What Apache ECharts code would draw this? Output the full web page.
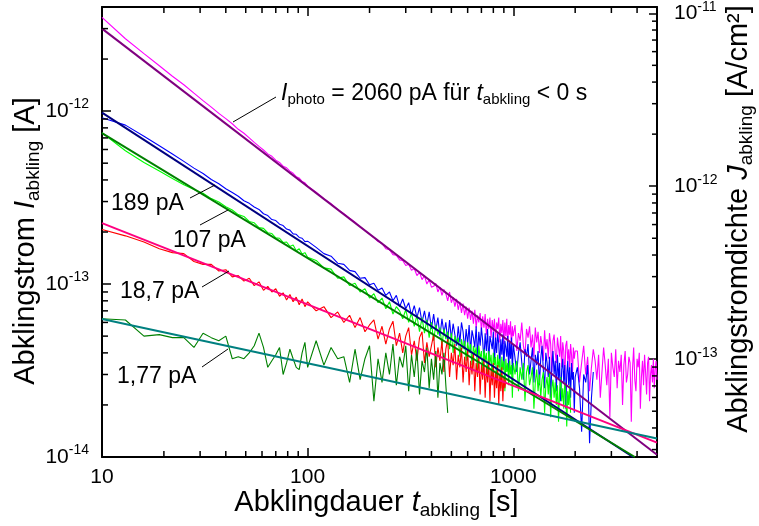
<!DOCTYPE html>
<html><head><meta charset="utf-8">
<script src="https://cdn.jsdelivr.net/npm/echarts@6/dist/echarts.min.js"></script>
<style>html,body{margin:0;padding:0;background:#fff}#c{width:759px;height:526px}</style>
</head><body><div id="c"></div>
<script>
// ---------------- data (current in fA = 1e-15 A, time in s) ----------------
const tSample = [10,13,16,19,22,25,28,31,34,37,40,43,46,49,52,55,58,61,64,67,70,73,76,79,82,85,88,91,94,97,100,
110,120,130,140,150,160,170,180,190,200,210,220,230,240,250,260,270,280,290,300,310,320,330,340,350,360,370,380,390,400,
410,420,430,440,450,460,470,480,490,500,510,520,530,540,550,560,570,580,590,600,610,620,630,640,650,660,670,680,690,700,
710,720,730,740,750,760,770,780,790,800,810,820,830,840,850,860,870,880,890,900,910,920,930,940,950,960,970,980,990,1000,
1020,1040,1060,1080,1100,1120,1140,1160,1180,1200,1220,1240,1260,1280,1300,1320,1340,1360,1380,1400,1420,1440,1460,1480,1500,
1520,1540,1560,1580,1600,1620,1640,1660,1680,1700,1720,1740,1760,1780,1800,1820,1840,1860,1880,1900,1920,1940,1960,1980,2000,
2050,2100,2150,2200,2250,2300,2350,2400,2450,2500,2550,2600,2650,2700,2750,2800,2850,2900,2950,3000,
3050,3100,3150,3200,3250,3300,3350,3400,3450,3500,3550,3600,3650,3700,3750,3800,3850,3900,3950,4000,
4050,4100,4150,4200,4250,4300,4350,4400,4450,4500,4550,4600,4650,4700,4750,4800,4850,4900,4950,5000];

const decay2060pA = [3480,2620,2150,1830,1590,1420,1270,1150,1055,970,905,845,785,745,700,660,625,596,566,548,520,505,480,470,450,437,418,410,392,385,368,
340,312,292,270,255,240,228,214,204,194,186,176,172,160,158,148,147,138,137,128,130,120,123,112,117,106,112,100,106,96,
97,101,90,96,86,93,88,80,90,78,84,74,82,71,79,68,77,66,74,63,73,62,70,59,71,56,66,60,68,54,
65,56,67,51,63,55,64,49,62,53,63,47,60,55,64,46,59,52,62,45,60,50,63,44,58,51,61,43,57,50,
58,41,52,47,60,44,39,55,49,57,43,51,38,56,46,53,40,50,44,36,54,42,48,37,52,45,31,47,51,40,
35,49,43,38,50,33,46,41,28,44,47,36,42,32,45,39,30,43,37,41,
41,27,35,44,30,38,24,33,42,36,28,39,22,31,43,34,26,37,17,40,33,29,42,25,36,31,39,20,34,41,
27,30,38,35,16,32,43,28,24,37,33,40,19,29,36,26,39,31,23,35,38,21,30,34,27,37,25,32,36,28];

const decay189pA = [915,830,715,630,565,512,468,436,402,380,356,338,322,303,293,279,270,255,249,236,233,222,218,208,205,195,194,186,184,176,177,
163,150,145,132,130,120,118,108,109,99,101,92,95,86,90,80,86,74,82,72,78,66,75,64,73,60,70,58,69,55,
67,54,64,50,63,52,60,47,62,48,
59,51,44,57,46,60,53,42,55,45,58,40,54,49,43,57,38,53,44,56,47,36,52,41,55,35,50,46,42,53,
34,49,40,52,45,33,48,39,51,32,47,43,38,50,31,46,37,49,30,45,
44,31,40,46,35,28,42,38,45,30,36,43,27,39,34,41,26,37,44,32,25,40,35,29,38,22,33,41,30,36,
24,39,28,35,21,32,37,27,34,19,30,36,26,33,22,35,28,31,18,29,
33,25,14,30,27,34,12,22,31];

const decay107pA = [750,590,505,450,408,375,352,335,312,298,280,268,252,246,230,226,212,210,198,196,185,184,174,175,165,168,156,160,149,152,143,
137,124,122,108,110,98,101,90,94,83,88,78,83,72,79,67,74,70,63,71,60,68,57,66,53,64,52,62,49,60,
47,58,51,56,44,55,48,53,42,52,40,50,45,49,38,48,42,47,36,46,40,45,34,44,39,43,32,44,37,41,
31,42,36,40,29,41,35,39,28,40,34,38,27,39,33,37,25,38,32,36,24,37,31,35,26,36,30,34,22,35,
30,36,24,33,28,35,21,31,34,26,29,33,19,27,32,24,30,22,28,31,18,26,29,23,31,17,25,28,22,27,
20,26,16,24,29,21,25,19,27,23,15,24,20,26,18];

const decay18_7pA = [207,190,175,160,152,150,135,130,130,119,121,110,112,104,108,98,103,92,97,90,94,85,89,81,87,79,84,76,82,74,79,
70,74,64,69,60,66,56,64,53,58,62,48,57,45,55,61,44,52,40,50,56,39,47,36,49,53,35,46,38,44,
51,33,43,36,47,31,42,48,29,40,34,45,28,39,33,43,27,38,31,42,26,36,30,40,24,35,29,38,23,34,
28,37,22,33,27,36,21,32,26,35,22,31,25,34,20,30,24,33,21,29,25,28];

const decay1_77pA = [63,62,50,51,49,49,43,52,49,47,50,37,38,37,40,44,52,43,33,36,39,43,30,35,42,37,33,32,40,46,33,
47,34,43,37,38,27,42,28,37,44,21,37,27,40,30,45,26,38,33,44,24,39,29,42,23,36,31,43,25,37,
28,41,22,35,30,40,26,18];

// power-law fits: [t, I] end points
const fit2060pA = [[10, 3000], [5000, 10.3]];
const fit189pA  = [[10, 980],  [3820, 10]];
const fit107pA  = [[10, 746],  [3900, 10]];
const fit18_7pA = [[10, 225],  [5000, 12.1]];
const fit1_77pA = [[10, 62.8], [5000, 12.8]];

const AREA_CM2 = 0.368;            // I -> J conversion
const T_MIN = 10, T_MAX = 5000;
const I_MIN = 10, I_MAX = 4000;     // fA

// ---------------- helpers ----------------
const FONT = '"Liberation Sans", Arial, Helvetica, sans-serif';
const pairs = vals => vals.map((v, i) => [tSample[i], v]);
function isPow(v) { const e = Math.log10(v); return Math.abs(e - Math.round(e)) < 1e-6; }
function powLabel(v) { if (!isPow(v)) return ''; return '{b|10}{s|' + (Math.round(Math.log10(v)) - 15) + '}'; }
const labRich = {
  b: { fontSize: 21, fontFamily: FONT, color: '#000' },
  s: { fontSize: 14, fontFamily: FONT, color: '#000', padding: [0, 0, 13, 0] }
};
const titleRich = {
  n: { fontSize: 29, fontFamily: FONT, color: '#000' },
  i: { fontSize: 29, fontFamily: FONT, fontStyle: 'italic', color: '#000' },
  sub: { fontSize: 19, fontFamily: FONT, color: '#000', padding: [16, 0, 0, 0] }
};
const annRich = {
  n: { fontSize: 23, fontFamily: FONT, color: '#000' },
  i: { fontSize: 23, fontFamily: FONT, fontStyle: 'italic', color: '#000' },
  sub: { fontSize: 15, fontFamily: FONT, color: '#000', padding: [12, 0, 0, 0] }
};
function decadeMinors(lo, hi) {
  const out = [];
  for (let d = 1; d <= 1e5; d *= 10) for (let m = 2; m <= 9; m++) { const v = m * d; if (v > lo * 1.001 && v < hi * 0.999) out.push(v); }
  return out;
}
const xMinor = decadeMinors(T_MIN, T_MAX);
const yMinor = decadeMinors(I_MIN, I_MAX);
const jMinor = decadeMinors(I_MIN / AREA_CM2, I_MAX / AREA_CM2);

function lineSeries(name, data, color, width, z) {
  return { name, type: 'line', data, showSymbol: false, symbol: 'none', xAxisIndex: 0, yAxisIndex: 0,
    lineStyle: { color, width }, itemStyle: { color }, z, silent: true, animation: false, clip: true };
}
const tickStyle = { stroke: '#000', lineWidth: 1.5 };
const minorX = {
  type: 'custom', xAxisIndex: 0, yAxisIndex: 0, silent: true, z: 10, animation: false,
  data: xMinor.map(t => [t, I_MIN]),
  renderItem(params, api) {
    const p = api.coord([api.value(0), api.value(1)]); const cs = params.coordSys;
    return { type: 'group', children: [
      { type: 'line', shape: { x1: p[0], y1: cs.y + cs.height, x2: p[0], y2: cs.y + cs.height - 6 }, style: tickStyle },
      { type: 'line', shape: { x1: p[0], y1: cs.y, x2: p[0], y2: cs.y + 6 }, style: tickStyle } ] };
  }
};
const minorY = {
  type: 'custom', xAxisIndex: 0, yAxisIndex: 0, silent: true, z: 10, animation: false,
  data: yMinor.map(v => [T_MIN, v]),
  renderItem(params, api) {
    const p = api.coord([api.value(0), api.value(1)]); const cs = params.coordSys;
    return { type: 'line', shape: { x1: cs.x, y1: p[1], x2: cs.x + 6, y2: p[1] }, style: tickStyle };
  }
};
const minorJ = {
  type: 'custom', xAxisIndex: 0, yAxisIndex: 1, silent: true, z: 10, animation: false,
  data: jMinor.map(v => [T_MIN, v]),
  renderItem(params, api) {
    const p = api.coord([api.value(0), api.value(1)]); const cs = params.coordSys;
    return { type: 'line', shape: { x1: cs.x + cs.width, y1: p[1], x2: cs.x + cs.width - 5, y2: p[1] }, style: tickStyle };
  }
};

const axisLine = { show: true, onZero: false, lineStyle: { color: '#000', width: 2 } };
const majorTick = { show: true, inside: true, length: 9, lineStyle: { color: '#000', width: 1.5 } };
const annText = (x, y, text) => ({ type: 'text', x, y, z: 20,
  style: { text, fontSize: 23, fontFamily: FONT, fill: '#000', align: 'left', verticalAlign: 'middle', textAlign: 'left', textVerticalAlign: 'middle' } });
const leader = (x1, y1, x2, y2) => ({ type: 'line', z: 20, shape: { x1, y1, x2, y2 }, style: { stroke: '#000', lineWidth: 1 } });

const option = {
  animation: false,
  backgroundColor: '#fff',
  grid: { left: 102, right: 102, top: 7, bottom: 69, containLabel: false, outerBoundsMode: 'none' },
  xAxis: [
    { type: 'log', position: 'bottom', min: T_MIN, max: T_MAX, logBase: 10,
      axisLine, axisTick: majorTick, splitLine: { show: false }, minorTick: { show: false },
      axisLabel: { margin: 10, fontSize: 21, fontFamily: FONT, color: '#000', formatter: v => isPow(v) ? String(Math.round(v)) : '' },
      name: '{n|Abklingdauer }{i|t}{sub|abkling}{n| [s]}', nameLocation: 'middle', nameGap: 28, nameMoveOverlap: false,
      nameTextStyle: { rich: titleRich, padding: [0, 6, 0, 0] } },
    { type: 'log', position: 'top', min: T_MIN, max: T_MAX, logBase: 10,
      axisLine, axisTick: majorTick, axisLabel: { show: false }, splitLine: { show: false } }
  ],
  yAxis: [
    { type: 'log', position: 'left', min: I_MIN, max: I_MAX, logBase: 10,
      axisLine, axisTick: majorTick, splitLine: { show: false },
      axisLabel: { margin: 13, formatter: powLabel, rich: labRich },
      name: '{n|Abklingstrom }{i|I}{sub|abkling}{n| [A]}', nameLocation: 'middle', nameRotate: 90, nameGap: 59, nameMoveOverlap: false,
      nameTextStyle: { rich: titleRich, padding: [0, 18, 0, 0] } },
    { type: 'log', position: 'right', min: I_MIN / AREA_CM2, max: I_MAX / AREA_CM2, logBase: 10,
      axisLine, axisTick: { show: true, inside: true, length: 8, lineStyle: { color: '#000', width: 1.5 } }, splitLine: { show: false },
      axisLabel: { margin: 17, formatter: powLabel, rich: labRich },
      name: '{n|Abklingstromdichte }{i|J}{sub|abkling}{n| [A/cm²]}', nameLocation: 'middle', nameRotate: 90, nameGap: 64, nameMoveOverlap: false,
      nameTextStyle: { rich: titleRich, padding: [0, 0, 0, 26] } }
  ],
  series: [
    lineSeries('2060 pA', pairs(decay2060pA), '#ff00ff', 1.1, 2),
    lineSeries('189 pA', pairs(decay189pA), '#0000ff', 1.1, 2),
    lineSeries('107 pA', pairs(decay107pA), '#00ff00', 1.1, 2),
    lineSeries('18,7 pA', pairs(decay18_7pA), '#ff0000', 1.1, 2),
    lineSeries('1,77 pA', pairs(decay1_77pA), '#008000', 1.1, 2),
    lineSeries('Fit 2060 pA', fit2060pA, '#800080', 2, 3),
    lineSeries('Fit 189 pA', fit189pA, '#000080', 2, 3),
    lineSeries('Fit 107 pA', fit107pA, '#008000', 2, 3),
    lineSeries('Fit 18,7 pA', fit18_7pA, '#ff0080', 2, 3),
    lineSeries('Fit 1,77 pA', fit1_77pA, '#008080', 2, 3),
    minorX, minorY, minorJ
  ],
  graphic: [
    leader(233, 122, 276, 97),
    { type: 'text', x: 281, y: 94, z: 20, style: { text: '{i|I}{sub|photo}{n| = 2060 pA für }{i|t}{sub|abkling}{n| < 0 s}', rich: annRich, align: 'left', verticalAlign: 'middle', textAlign: 'left', textVerticalAlign: 'middle' } },
    leader(190, 198, 215, 185), annText(111, 204, '189 pA'),
    leader(200, 225, 228, 210), annText(173, 241, '107 pA'),
    leader(202, 287, 229, 271), annText(120, 292, '18,7 pA'),
    leader(202, 367, 228, 349), annText(117, 377, '1,77 pA')
  ]
};
const chart = echarts.init(document.getElementById('c'), null, { renderer: 'canvas' });
chart.setOption(option);
</script></body></html>
